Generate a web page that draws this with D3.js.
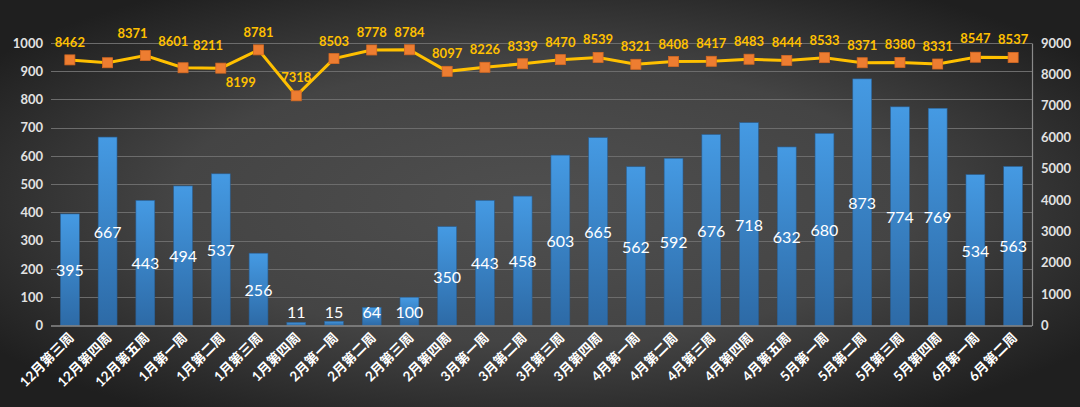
<!DOCTYPE html>
<html>
<head>
<meta charset="utf-8">
<script src="https://cdn.jsdelivr.net/npm/d3@7"></script>
<style>
html,body{margin:0;padding:0;background:#333;}
svg{display:block;}
</style>
</head>
<body>
<svg id="chart" width="1080" height="407"></svg>
<script>
// ---- data ----
const categories = ["12月第三周","12月第四周","12月第五周","1月第一周","1月第二周","1月第三周","1月第四周","2月第一周","2月第二周","2月第三周","2月第四周","3月第一周","3月第二周","3月第三周","3月第四周","4月第一周","4月第二周","4月第三周","4月第四周","4月第五周","5月第一周","5月第二周","5月第三周","5月第四周","6月第一周","6月第二周"];
const barValues = [395,667,443,494,537,256,11,15,64,100,350,443,458,603,665,562,592,676,718,632,680,873,774,769,534,563];
const lineValues = [8462,8371,8601,8211,8199,8781,7318,8503,8778,8784,8097,8226,8339,8470,8539,8321,8408,8417,8483,8444,8533,8371,8380,8331,8547,8537];
const leftTicks = [0,100,200,300,400,500,600,700,800,900,1000];
const rightTicks = [0,1000,2000,3000,4000,5000,6000,7000,8000,9000];

// manual label nudges for the line labels (layout only)
const lineLabelDx = [0,25,28,25,20,0,0,0,0,0,0,0,0,0,0,0,0,0,0,0,0,0,0,0,0,0];
const lineLabelDy = [-18,-30,-15,-23,14,-18,-19,-18,-18,-18,-18,-18,-18,-18,-18,-18,-18,-18,-18,-18,-18,-18,-18,-18,-19,-19];

(function(){
const W = 1080, H = 407;
const pLeft = 51, pRight = 1032, pTop = 43, pBottom = 325.5;
const svg = d3.select("#chart");
const defs = svg.append("defs");

const bg = defs.append("radialGradient").attr("id","bg")
  .attr("cx","0.5").attr("cy","0.5").attr("r","0.62");
bg.append("stop").attr("offset","0").attr("stop-color","#4f4f4f");
bg.append("stop").attr("offset","0.55").attr("stop-color","#444444");
bg.append("stop").attr("offset","1").attr("stop-color","#1f1f1f");

const bar = defs.append("linearGradient").attr("id","bar")
  .attr("x1","0").attr("y1","0").attr("x2","0").attr("y2","1");
bar.append("stop").attr("offset","0").attr("stop-color","#459ae3");
bar.append("stop").attr("offset","1").attr("stop-color","#2d6aa6");

svg.append("rect").attr("width",W).attr("height",H).attr("fill","url(#bg)");

const x = d3.scaleBand().domain(categories).range([pLeft,pRight]).paddingInner(0.5).paddingOuter(0.25);
const yL = d3.scaleLinear().domain([0,1000]).range([pBottom,pTop]);
const yR = d3.scaleLinear().domain([0,9000]).range([pBottom,pTop]);

const font = "Lato, 'Noto Sans CJK SC', sans-serif";

// gridlines
svg.append("g").selectAll("line").data(leftTicks.slice(1)).join("line")
  .attr("x1",pLeft).attr("x2",pRight)
  .attr("y1",d=>Math.round(yL(d))+0.5).attr("y2",d=>Math.round(yL(d))+0.5)
  .attr("stroke","#6c6c6c").attr("stroke-width",1.2);

// left axis
const axL = svg.append("g").attr("transform",`translate(${pLeft},0)`)
  .call(d3.axisLeft(yL).tickValues(leftTicks).tickFormat(d3.format("d")).tickSize(0).tickPadding(8));
axL.select(".domain").remove();
axL.selectAll("text").attr("fill","#e2e2e2").style("font-family",font)
  .style("font-size","13px").style("font-weight","bold");

// right axis
const axR = svg.append("g").attr("transform",`translate(${pRight},0)`)
  .call(d3.axisRight(yR).tickValues(rightTicks).tickFormat(d3.format("d")).tickSize(0).tickPadding(9));
axR.select(".domain").attr("stroke","#8a8a8a").attr("stroke-width",1.2);
axR.selectAll("text").attr("fill","#e2e2e2").style("font-family",font)
  .style("font-size","13px").style("font-weight","bold");

// bars
svg.append("g").selectAll("rect").data(barValues).join("rect")
  .attr("x",(d,i)=>x(categories[i]))
  .attr("y",d=>yL(d))
  .attr("width",x.bandwidth())
  .attr("height",d=>pBottom-yL(d))
  .attr("fill","url(#bar)")
  .attr("stroke","#2a5f93").attr("stroke-width",0.6);

// baseline
svg.append("line").attr("x1",pLeft).attr("x2",pRight)
  .attr("y1",pBottom+0.5).attr("y2",pBottom+0.5)
  .attr("stroke","#8a8a8a").attr("stroke-width",1.5);

// bar labels
svg.append("g").selectAll("text").data(barValues).join("text")
  .attr("x",(d,i)=>x(categories[i])+x.bandwidth()/2)
  .attr("y",d=>Math.min((yL(d)+pBottom)/2, 311))
  .attr("text-anchor","middle").attr("dominant-baseline","central")
  .attr("fill","#ffffff").style("font-family",font).style("font-size","16px")
  .text(d=>d);

// x axis labels
svg.append("g").selectAll("text").data(categories).join("text")
  .attr("transform",d=>`translate(${x(d)+x.bandwidth()/2+5},${pBottom+13}) rotate(-45)`)
  .attr("text-anchor","end")
  .attr("fill","#ffffff").style("font-family",font).style("font-size","13.5px").style("font-weight","bold")
  .text(d=>d);

// line
const cx = (i)=>x(categories[i])+x.bandwidth()/2;
svg.append("path").datum(lineValues)
  .attr("d",d3.line().x((d,i)=>cx(i)).y(d=>yR(d)))
  .attr("fill","none").attr("stroke","#ffc000").attr("stroke-width",3);

svg.append("g").selectAll("rect").data(lineValues).join("rect")
  .attr("x",(d,i)=>cx(i)-5).attr("y",d=>yR(d)-5)
  .attr("width",10).attr("height",10)
  .attr("fill","#ed7d31").attr("stroke","#d86a22").attr("stroke-width",0.8);

// line labels
svg.append("g").selectAll("text").data(lineValues).join("text")
  .attr("x",(d,i)=>cx(i)+lineLabelDx[i])
  .attr("y",(d,i)=>yR(d)+lineLabelDy[i])
  .attr("text-anchor","middle").attr("dominant-baseline","central")
  .attr("fill","#ffc000").style("font-family",font).style("font-size","13px").style("font-weight","bold")
  .text(d=>d);
})();
</script>
</body>
</html>
